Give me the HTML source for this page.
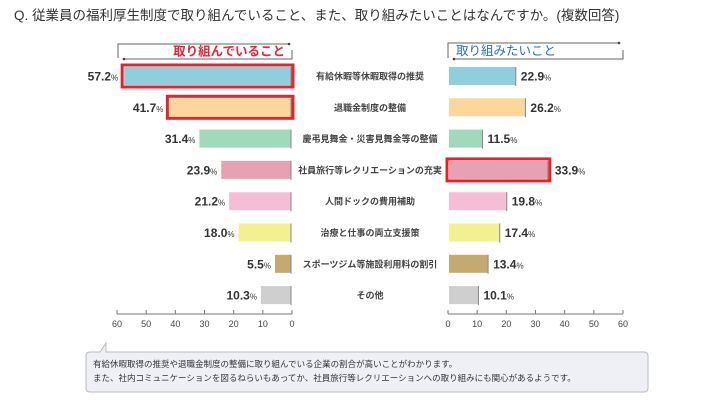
<!DOCTYPE html>
<html><head><meta charset="utf-8"><style>
html,body{margin:0;padding:0;background:#fff;}
svg{display:block;font-family:"Liberation Sans","Noto Sans CJK JP",sans-serif;}
</style></head><body>
<svg id="s" width="709" height="402" viewBox="0 0 709 402" xmlns="http://www.w3.org/2000/svg">
<text x="14" y="20" font-size="13.5" fill="#333">Q.  従業員の福利厚生制度で取り組んでいること、また、取り組みたいことはなんですか。(複数回答)</text>
<!-- headers -->
<path d="M118,58 L118,44 L289,44" fill="none" stroke="#666" stroke-width="1"/>
<path d="M124,59 L292,59 L292,50" fill="none" stroke="#666" stroke-width="1"/>
<circle cx="289" cy="44" r="1.3" fill="#444"/><circle cx="124" cy="59" r="1.3" fill="#444"/>
<text x="285" y="55.5" font-size="12.5" fill="#e4263a" text-anchor="end" font-weight="bold">取り組んでいること</text>
<path d="M448,58 L448,43 L619,43" fill="none" stroke="#666" stroke-width="1"/>
<path d="M454,59 L623,59 L623,50" fill="none" stroke="#666" stroke-width="1"/>
<circle cx="619" cy="43" r="1.3" fill="#444"/><circle cx="454" cy="59" r="1.3" fill="#444"/>
<text x="456" y="55" font-size="12.5" fill="#2a6fb5">取り組みたいこと</text>
<g id="bars"></g>
<!-- axes -->
<g stroke="#777" stroke-width="1">
<line x1="117" y1="314" x2="292" y2="314"/>
<line x1="448" y1="314" x2="623" y2="314"/>
</g>
<g id="ticks"></g>
<!-- callout -->
<path d="M90,352 L100,352 L106,343 L106,352 L644,352 Q648,352 648,356 L648,388 Q648,392 644,392 L90,392 Q86,392 86,388 L86,356 Q86,352 90,352 Z" fill="#eef0f5" stroke="#bbb" stroke-width="1"/>
<text x="93" y="367" font-size="8.5" fill="#333">有給休暇取得の推奨や退職金制度の整備に取り組んでいる企業の割合が高いことがわかります。</text>
<text x="93" y="381" font-size="8.5" fill="#333">また、社内コミュニケーションを図るねらいもあってか、社員旅行等レクリエーションへの取り組みにも関心があるようです。</text>
</svg>
<script>
var d=[["有給休暇等休暇取得の推奨",57.2,22.9,"#8fcfdd",1,0],
["退職金制度の整備",41.7,26.2,"#fbd79b",1,0],
["慶弔見舞金・災害見舞金等の整備",31.4,11.5,"#a1d9bd",0,0],
["社員旅行等レクリエーションの充実",23.9,33.9,"#e6a1b3",0,1],
["人間ドックの費用補助",21.2,19.8,"#f6bdd6",0,0],
["治療と仕事の両立支援策",18.0,17.4,"#f3f08f",0,0],
["スポーツジム等施設利用料の割引",5.5,13.4,"#c6a96e",0,0],
["その他",10.3,10.1,"#cfcfcf",0,0]];
var k=175/60,h='',t='';
d.forEach(function(r,i){
 var cy=76+i*31.3,y=cy-9,bh=18;
 var wl=r[1]*k,xl=291-wl,wr=r[2]*k,xr=449;
 h+='<rect x="'+xl+'" y="'+y+'" width="'+wl+'" height="'+bh+'" fill="'+r[3]+'"/>';
 h+='<line x1="'+(xl+wl)+'" y1="'+y+'" x2="'+(xl+wl)+'" y2="'+(y+bh+1)+'" stroke="#888" stroke-width="1"/>';
 h+='<rect x="'+xr+'" y="'+y+'" width="'+wr+'" height="'+bh+'" fill="'+r[3]+'"/>';
 h+='<line x1="'+(xr+wr)+'" y1="'+y+'" x2="'+(xr+wr)+'" y2="'+(y+bh+1)+'" stroke="#888" stroke-width="1"/>';
 if(r[4])h+='<rect x="'+(xl-2)+'" y="'+(y-2)+'" width="'+(wl+4)+'" height="'+(bh+4)+'" fill="none" stroke="#e4232d" stroke-width="3"/>';
 if(r[5])h+='<rect x="'+(xr-2)+'" y="'+(y-2)+'" width="'+(wr+4)+'" height="'+(bh+4)+'" fill="none" stroke="#e4232d" stroke-width="3"/>';
 var lx=xl-(r[4]?6:4);
 h+='<text x="'+lx+'" y="'+(cy+4.5)+'" text-anchor="end" font-size="12" font-weight="bold" fill="#333">'+r[1].toFixed(1)+'<tspan font-size="8" font-weight="normal">%</tspan></text>';
 var rx=xr+wr+(r[5]?7:5);
 h+='<text x="'+rx+'" y="'+(cy+4.5)+'" font-size="12" font-weight="bold" fill="#333">'+r[2].toFixed(1)+'<tspan font-size="8" font-weight="normal">%</tspan></text>';
 h+='<text x="370" y="'+(cy+3.5)+'" text-anchor="middle" font-size="9" font-weight="bold" fill="#444">'+r[0]+'</text>';
});
document.getElementById('bars').innerHTML=h;
for(var v=0;v<=60;v+=10){
 var a=292-v*k,b=448+v*k;
 t+='<line x1="'+a+'" y1="310" x2="'+a+'" y2="314" stroke="#777"/><line x1="'+b+'" y1="310" x2="'+b+'" y2="314" stroke="#777"/>';
 t+='<text x="'+a+'" y="327" text-anchor="middle" font-size="9" fill="#444">'+v+'</text>';
 t+='<text x="'+b+'" y="327" text-anchor="middle" font-size="9" fill="#444">'+v+'</text>';
}
document.getElementById('ticks').innerHTML=t;
</script>
</body></html>
